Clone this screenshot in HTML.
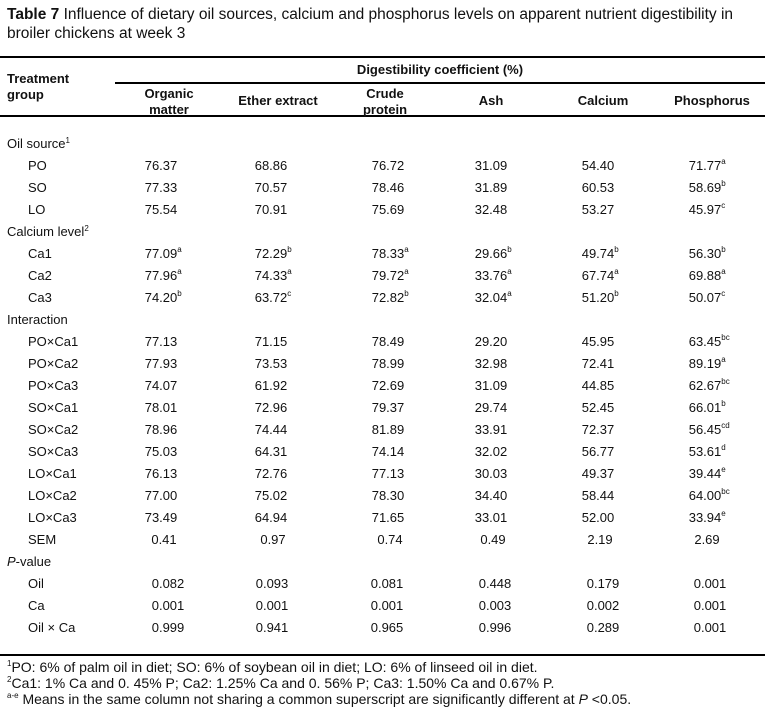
<!DOCTYPE html>
<html><head><meta charset="utf-8"><style>
body{margin:0;background:#fff;width:765px;height:724px;position:relative;overflow:hidden;font-family:"Liberation Sans",Arial,sans-serif;color:#111}
.t{position:absolute;left:7px;font-size:15.5px;line-height:19px;top:5px}
.hl{position:absolute;height:1.5px;background:#000}
.r{position:absolute;left:0;width:765px;height:16px;font-size:13px;line-height:16px}
.r span{position:absolute;transform:translateX(-50%);white-space:nowrap}
.r span.l{transform:none}
sup{position:absolute;left:100%;top:0px;font-size:8px;line-height:8px}
.h{position:absolute;font-size:13px;font-weight:bold;line-height:16px;text-align:center;transform:translateX(-50%)}
.f{position:absolute;left:7px;font-size:14px;line-height:16px;white-space:nowrap}
.f sup{position:static;font-size:8px;vertical-align:6px}
</style></head><body>
<div class="t"><b>Table 7</b> Influence of dietary oil sources, calcium and phosphorus levels on apparent nutrient digestibility in<br>broiler chickens at week 3</div>
<div class="hl" style="left:0;width:765px;top:56px"></div>
<div class="hl" style="left:115px;width:650px;top:82px"></div>
<div class="hl" style="left:0;width:765px;top:115px"></div>
<div class="hl" style="left:0;width:765px;top:654px"></div>
<div class="h" style="left:440px;top:62px">Digestibility coefficient (%)</div>
<div class="h" style="top:71px;transform:none;text-align:left;left:7px">Treatment<br>group</div>
<div class="h" style="left:169px;top:86px">Organic<br>matter</div>
<div class="h" style="left:278px;top:93px">Ether extract</div>
<div class="h" style="left:385px;top:86px">Crude<br>protein</div>
<div class="h" style="left:491px;top:93px">Ash</div>
<div class="h" style="left:603px;top:93px">Calcium</div>
<div class="h" style="left:712px;top:93px">Phosphorus</div>

<div class="r" style="top:136px"><span class="l" style="left:7px">Oil source<sup style="position:static;vertical-align:5px">1</sup></span></div>
<div class="r" style="top:158px"><span class="l" style="left:28px">PO</span><span style="left:161px">76.37</span><span style="left:271px">68.86</span><span style="left:388px">76.72</span><span style="left:491px">31.09</span><span style="left:598px">54.40</span><span style="left:705px">71.77<sup>a</sup></span></div>
<div class="r" style="top:180px"><span class="l" style="left:28px">SO</span><span style="left:161px">77.33</span><span style="left:271px">70.57</span><span style="left:388px">78.46</span><span style="left:491px">31.89</span><span style="left:598px">60.53</span><span style="left:705px">58.69<sup>b</sup></span></div>
<div class="r" style="top:202px"><span class="l" style="left:28px">LO</span><span style="left:161px">75.54</span><span style="left:271px">70.91</span><span style="left:388px">75.69</span><span style="left:491px">32.48</span><span style="left:598px">53.27</span><span style="left:705px">45.97<sup>c</sup></span></div>
<div class="r" style="top:224px"><span class="l" style="left:7px">Calcium level<sup style="position:static;vertical-align:5px">2</sup></span></div>
<div class="r" style="top:246px"><span class="l" style="left:28px">Ca1</span><span style="left:161px">77.09<sup>a</sup></span><span style="left:271px">72.29<sup>b</sup></span><span style="left:388px">78.33<sup>a</sup></span><span style="left:491px">29.66<sup>b</sup></span><span style="left:598px">49.74<sup>b</sup></span><span style="left:705px">56.30<sup>b</sup></span></div>
<div class="r" style="top:268px"><span class="l" style="left:28px">Ca2</span><span style="left:161px">77.96<sup>a</sup></span><span style="left:271px">74.33<sup>a</sup></span><span style="left:388px">79.72<sup>a</sup></span><span style="left:491px">33.76<sup>a</sup></span><span style="left:598px">67.74<sup>a</sup></span><span style="left:705px">69.88<sup>a</sup></span></div>
<div class="r" style="top:290px"><span class="l" style="left:28px">Ca3</span><span style="left:161px">74.20<sup>b</sup></span><span style="left:271px">63.72<sup>c</sup></span><span style="left:388px">72.82<sup>b</sup></span><span style="left:491px">32.04<sup>a</sup></span><span style="left:598px">51.20<sup>b</sup></span><span style="left:705px">50.07<sup>c</sup></span></div>
<div class="r" style="top:312px"><span class="l" style="left:7px">Interaction</span></div>
<div class="r" style="top:334px"><span class="l" style="left:28px">PO×Ca1</span><span style="left:161px">77.13</span><span style="left:271px">71.15</span><span style="left:388px">78.49</span><span style="left:491px">29.20</span><span style="left:598px">45.95</span><span style="left:705px">63.45<sup>bc</sup></span></div>
<div class="r" style="top:356px"><span class="l" style="left:28px">PO×Ca2</span><span style="left:161px">77.93</span><span style="left:271px">73.53</span><span style="left:388px">78.99</span><span style="left:491px">32.98</span><span style="left:598px">72.41</span><span style="left:705px">89.19<sup>a</sup></span></div>
<div class="r" style="top:378px"><span class="l" style="left:28px">PO×Ca3</span><span style="left:161px">74.07</span><span style="left:271px">61.92</span><span style="left:388px">72.69</span><span style="left:491px">31.09</span><span style="left:598px">44.85</span><span style="left:705px">62.67<sup>bc</sup></span></div>
<div class="r" style="top:400px"><span class="l" style="left:28px">SO×Ca1</span><span style="left:161px">78.01</span><span style="left:271px">72.96</span><span style="left:388px">79.37</span><span style="left:491px">29.74</span><span style="left:598px">52.45</span><span style="left:705px">66.01<sup>b</sup></span></div>
<div class="r" style="top:422px"><span class="l" style="left:28px">SO×Ca2</span><span style="left:161px">78.96</span><span style="left:271px">74.44</span><span style="left:388px">81.89</span><span style="left:491px">33.91</span><span style="left:598px">72.37</span><span style="left:705px">56.45<sup>cd</sup></span></div>
<div class="r" style="top:444px"><span class="l" style="left:28px">SO×Ca3</span><span style="left:161px">75.03</span><span style="left:271px">64.31</span><span style="left:388px">74.14</span><span style="left:491px">32.02</span><span style="left:598px">56.77</span><span style="left:705px">53.61<sup>d</sup></span></div>
<div class="r" style="top:466px"><span class="l" style="left:28px">LO×Ca1</span><span style="left:161px">76.13</span><span style="left:271px">72.76</span><span style="left:388px">77.13</span><span style="left:491px">30.03</span><span style="left:598px">49.37</span><span style="left:705px">39.44<sup>e</sup></span></div>
<div class="r" style="top:488px"><span class="l" style="left:28px">LO×Ca2</span><span style="left:161px">77.00</span><span style="left:271px">75.02</span><span style="left:388px">78.30</span><span style="left:491px">34.40</span><span style="left:598px">58.44</span><span style="left:705px">64.00<sup>bc</sup></span></div>
<div class="r" style="top:510px"><span class="l" style="left:28px">LO×Ca3</span><span style="left:161px">73.49</span><span style="left:271px">64.94</span><span style="left:388px">71.65</span><span style="left:491px">33.01</span><span style="left:598px">52.00</span><span style="left:705px">33.94<sup>e</sup></span></div>
<div class="r" style="top:532px"><span class="l" style="left:28px">SEM</span><span style="left:164px">0.41</span><span style="left:273px">0.97</span><span style="left:390px">0.74</span><span style="left:493px">0.49</span><span style="left:600px">2.19</span><span style="left:707px">2.69</span></div>
<div class="r" style="top:554px"><span class="l" style="left:7px"><i>P</i>-value</span></div>
<div class="r" style="top:576px"><span class="l" style="left:28px">Oil</span><span style="left:168px">0.082</span><span style="left:272px">0.093</span><span style="left:387px">0.081</span><span style="left:495px">0.448</span><span style="left:603px">0.179</span><span style="left:710px">0.001</span></div>
<div class="r" style="top:598px"><span class="l" style="left:28px">Ca</span><span style="left:168px">0.001</span><span style="left:272px">0.001</span><span style="left:387px">0.001</span><span style="left:495px">0.003</span><span style="left:603px">0.002</span><span style="left:710px">0.001</span></div>
<div class="r" style="top:620px"><span class="l" style="left:28px">Oil × Ca</span><span style="left:168px">0.999</span><span style="left:272px">0.941</span><span style="left:387px">0.965</span><span style="left:495px">0.996</span><span style="left:603px">0.289</span><span style="left:710px">0.001</span></div>

<div class="f" style="top:659px"><sup>1</sup>PO: 6% of palm oil in diet; SO: 6% of soybean oil in diet; LO: 6% of linseed oil in diet.</div>
<div class="f" style="top:675px"><sup>2</sup>Ca1: 1% Ca and 0. 45% P; Ca2: 1.25% Ca and 0. 56% P; Ca3: 1.50% Ca and 0.67% P.</div>
<div class="f" style="top:691px"><sup>a-e</sup> Means in the same column not sharing a common superscript are significantly different at <i>P</i> &lt;0.05.</div>
</body></html>
